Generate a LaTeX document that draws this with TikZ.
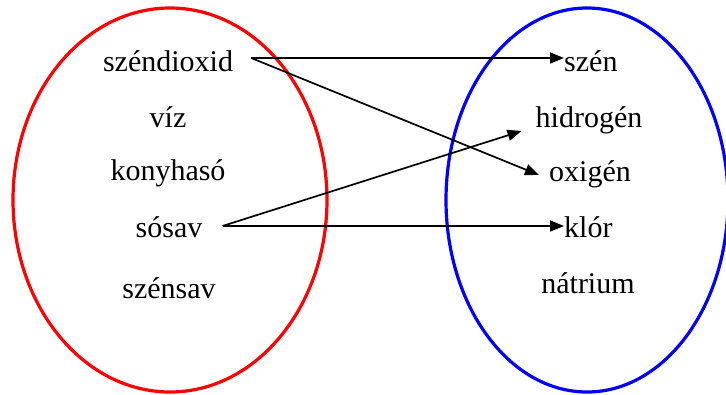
\documentclass[tikz,border=0pt]{standalone}
\usepackage{fontspec}
\setmainfont{Liberation Serif}
\usetikzlibrary{arrows.meta}
\begin{document}
\begin{tikzpicture}[x=1pt,y=-1pt,
  lbl/.style={font=\fontsize{30}{32}\selectfont, inner sep=0pt, anchor=base},
  arr/.style={black, line width=1.7pt, -{Triangle[length=14pt,width=11pt]}},
  redell/.style={draw=red, line width=3.2pt},
  blueell/.style={draw=blue, line width=3.2pt}]
\useasboundingbox (0,0) rectangle (726,394);
\draw[redell] (170,200) ellipse [x radius=157, y radius=192];
\draw[blueell] (587,200) ellipse [x radius=141, y radius=192];
% left set
\node[lbl] (szd) at (168,71) {széndioxid};
\node[lbl] (viz) at (168,127) {víz};
\node[lbl] (kony) at (168,180) {konyhasó};
\node[lbl] (sos) at (169,237) {sósav};
\node[lbl] (szs) at (169,298) {szénsav};
% right set
\node[lbl, anchor=base west] (szen) at (564,71) {szén};
\node[lbl] (hid) at (589,127) {hidrogén};
\node[lbl] (oxi) at (590,181) {oxigén};
\node[lbl, anchor=base west] (klor) at (564,237) {klór};
\node[lbl] (nat) at (588,293) {nátrium};
% connectors
\coordinate (a1) at ([xshift=18pt, yshift=13pt]szd.base east);
\coordinate (a2) at ([xshift=20pt, yshift=11pt]sos.base east);
\draw[arr] (a1) -- (szen.west |- a1);
\draw[arr] (a1) -- ([xshift=-10pt, yshift=6pt]oxi.base west);
\draw[arr] (a2) -- ([xshift=-14pt, yshift=-4pt]hid.base west);
\draw[arr] (a2) -- (klor.west |- a2);
\end{tikzpicture}
\end{document}
